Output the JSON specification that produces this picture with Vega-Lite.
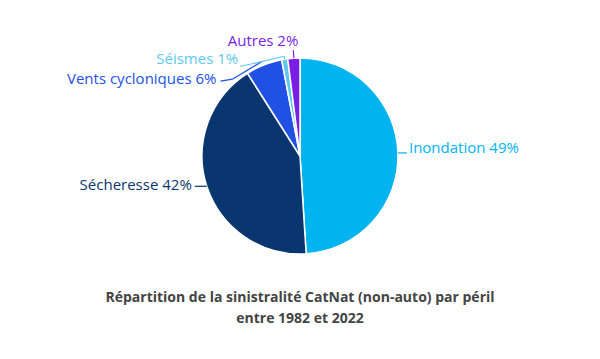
{
  "$schema": "https://vega.github.io/schema/vega-lite/v6.json",
  "width": 600,
  "height": 312,
  "autosize": "none",
  "padding": {"left": 0, "right": 0, "top": 0, "bottom": 47},
  "background": "white",
  "config": {"view": {"stroke": null}},
  "title": {
    "text": ["Répartition de la sinistralité CatNat (non-auto) par péril", "entre 1982 et 2022"],
    "orient": "bottom",
    "anchor": "middle",
    "font": "Open Sans",
    "fontSize": 14,
    "fontWeight": "bold",
    "color": "#444444",
    "lineHeight": 21,
    "offset": -21
  },
  "data": {
    "values": [
      {"peril": "Inondation", "value": 49, "order": 1},
      {"peril": "Sécheresse", "value": 42, "order": 2},
      {"peril": "Vents cycloniques", "value": 6, "order": 3},
      {"peril": "Séismes", "value": 1, "order": 4},
      {"peril": "Autres", "value": 2, "order": 5}
    ]
  },
  "transform": [
    {"joinaggregate": [{"op": "sum", "field": "value", "as": "total"}]},
    {"window": [{"op": "sum", "field": "value", "as": "cum"}], "sort": [{"field": "order"}], "frame": [null, 0]},
    {"calculate": "2*PI*(datum.cum - datum.value/2)/datum.total", "as": "mid"},
    {"calculate": "datum.peril + ' ' + datum.value + '%'", "as": "label"}
  ],
  "encoding": {
    "color": {
      "field": "peril",
      "type": "nominal",
      "scale": {
        "domain": ["Inondation", "Sécheresse", "Vents cycloniques", "Séismes", "Autres"],
        "range": ["#00b4f0", "#0a3670", "#2150e5", "#5ec8ee", "#7a1ee6"]
      },
      "legend": null
    }
  },
  "layer": [
    {
      "mark": {"type": "arc", "outerRadius": 98, "stroke": "white", "strokeWidth": 1.5},
      "encoding": {
        "theta": {"field": "value", "type": "quantitative", "stack": true},
        "order": {"field": "order", "type": "quantitative"}
      }
    },
    {
      "transform": [
        {"filter": "datum.peril === 'Inondation'"},
        {"calculate": "98*sin(datum.mid)", "as": "X"},
        {"calculate": "98*cos(datum.mid)", "as": "Y"},
        {"calculate": "datum.X + 9", "as": "X2"},
        {"calculate": "datum.Y", "as": "Y2"}
      ],
      "mark": {"type": "rule", "strokeWidth": 1.2},
      "encoding": {
        "x": {"field": "X", "type": "quantitative", "scale": {"domain": [-300, 300], "nice": false, "zero": false}, "axis": null},
        "y": {"field": "Y", "type": "quantitative", "scale": {"domain": [-156, 156], "nice": false, "zero": false}, "axis": null},
        "x2": {"field": "X2"},
        "y2": {"field": "Y2"}
      }
    },
    {
      "transform": [
        {"filter": "datum.peril === 'Sécheresse'"},
        {"calculate": "98*sin(datum.mid)", "as": "X"},
        {"calculate": "98*cos(datum.mid)", "as": "Y"},
        {"calculate": "datum.X - 12", "as": "X2"},
        {"calculate": "datum.Y", "as": "Y2"}
      ],
      "mark": {"type": "rule", "strokeWidth": 1.2},
      "encoding": {
        "x": {"field": "X", "type": "quantitative", "scale": {"domain": [-300, 300], "nice": false, "zero": false}, "axis": null},
        "y": {"field": "Y", "type": "quantitative", "scale": {"domain": [-156, 156], "nice": false, "zero": false}, "axis": null},
        "x2": {"field": "X2"},
        "y2": {"field": "Y2"}
      }
    },
    {
      "transform": [
        {"filter": "datum.peril === 'Vents cycloniques'"},
        {"calculate": "102*sin(datum.mid)", "as": "X"},
        {"calculate": "102*cos(datum.mid)", "as": "Y"},
        {"calculate": "datum.X - 30", "as": "X2"},
        {"calculate": "datum.Y - 18", "as": "Y2"}
      ],
      "mark": {"type": "rule", "strokeWidth": 1.2},
      "encoding": {
        "x": {"field": "X", "type": "quantitative", "scale": {"domain": [-300, 300], "nice": false, "zero": false}, "axis": null},
        "y": {"field": "Y", "type": "quantitative", "scale": {"domain": [-156, 156], "nice": false, "zero": false}, "axis": null},
        "x2": {"field": "X2"},
        "y2": {"field": "Y2"}
      }
    },
    {
      "transform": [
        {"filter": "datum.peril === 'Vents cycloniques'"},
        {"calculate": "102*sin(datum.mid) - 30", "as": "X"},
        {"calculate": "102*cos(datum.mid) - 18", "as": "Y"},
        {"calculate": "datum.X - 12", "as": "X2"},
        {"calculate": "datum.Y - 2", "as": "Y2"}
      ],
      "mark": {"type": "rule", "strokeWidth": 1.2},
      "encoding": {
        "x": {"field": "X", "type": "quantitative", "scale": {"domain": [-300, 300], "nice": false, "zero": false}, "axis": null},
        "y": {"field": "Y", "type": "quantitative", "scale": {"domain": [-156, 156], "nice": false, "zero": false}, "axis": null},
        "x2": {"field": "X2"},
        "y2": {"field": "Y2"}
      }
    },
    {
      "transform": [
        {"filter": "datum.peril === 'Séismes'"},
        {"calculate": "98*sin(datum.mid)", "as": "X"},
        {"calculate": "98*cos(datum.mid)", "as": "Y"},
        {"calculate": "101*sin(datum.mid)", "as": "X2"},
        {"calculate": "101*cos(datum.mid)", "as": "Y2"}
      ],
      "mark": {"type": "rule", "strokeWidth": 1.2},
      "encoding": {
        "x": {"field": "X", "type": "quantitative", "scale": {"domain": [-300, 300], "nice": false, "zero": false}, "axis": null},
        "y": {"field": "Y", "type": "quantitative", "scale": {"domain": [-156, 156], "nice": false, "zero": false}, "axis": null},
        "x2": {"field": "X2"},
        "y2": {"field": "Y2"}
      }
    },
    {
      "transform": [
        {"filter": "datum.peril === 'Séismes'"},
        {"calculate": "101*sin(datum.mid)", "as": "X"},
        {"calculate": "101*cos(datum.mid)", "as": "Y"},
        {"calculate": "datum.X - 34", "as": "X2"},
        {"calculate": "datum.Y - 8", "as": "Y2"}
      ],
      "mark": {"type": "rule", "strokeWidth": 1.2},
      "encoding": {
        "x": {"field": "X", "type": "quantitative", "scale": {"domain": [-300, 300], "nice": false, "zero": false}, "axis": null},
        "y": {"field": "Y", "type": "quantitative", "scale": {"domain": [-156, 156], "nice": false, "zero": false}, "axis": null},
        "x2": {"field": "X2"},
        "y2": {"field": "Y2"}
      }
    },
    {
      "transform": [
        {"filter": "datum.peril === 'Séismes'"},
        {"calculate": "101*sin(datum.mid) - 34", "as": "X"},
        {"calculate": "101*cos(datum.mid) - 8", "as": "Y"},
        {"calculate": "datum.X - 10", "as": "X2"},
        {"calculate": "datum.Y - 2", "as": "Y2"}
      ],
      "mark": {"type": "rule", "strokeWidth": 1.2},
      "encoding": {
        "x": {"field": "X", "type": "quantitative", "scale": {"domain": [-300, 300], "nice": false, "zero": false}, "axis": null},
        "y": {"field": "Y", "type": "quantitative", "scale": {"domain": [-156, 156], "nice": false, "zero": false}, "axis": null},
        "x2": {"field": "X2"},
        "y2": {"field": "Y2"}
      }
    },
    {
      "transform": [
        {"filter": "datum.peril === 'Autres'"},
        {"calculate": "98*sin(datum.mid)", "as": "X"},
        {"calculate": "98*cos(datum.mid)", "as": "Y"},
        {"calculate": "106*sin(datum.mid)", "as": "X2"},
        {"calculate": "106*cos(datum.mid)", "as": "Y2"}
      ],
      "mark": {"type": "rule", "strokeWidth": 1.2},
      "encoding": {
        "x": {"field": "X", "type": "quantitative", "scale": {"domain": [-300, 300], "nice": false, "zero": false}, "axis": null},
        "y": {"field": "Y", "type": "quantitative", "scale": {"domain": [-156, 156], "nice": false, "zero": false}, "axis": null},
        "x2": {"field": "X2"},
        "y2": {"field": "Y2"}
      }
    },
    {
      "transform": [
        {"filter": "datum.peril === 'Inondation'"},
        {"calculate": "108*sin(datum.mid)", "as": "X"},
        {"calculate": "108*cos(datum.mid)", "as": "Y"}
      ],
      "mark": {"type": "text", "align": "left", "baseline": "middle", "font": "Open Sans", "fontSize": 15, "dx": 1, "dy": -4.5},
      "encoding": {
        "x": {"field": "X", "type": "quantitative", "scale": {"domain": [-300, 300], "nice": false, "zero": false}, "axis": null},
        "y": {"field": "Y", "type": "quantitative", "scale": {"domain": [-156, 156], "nice": false, "zero": false}, "axis": null},
        "text": {"field": "label", "type": "nominal"}
      }
    },
    {
      "transform": [
        {"filter": "datum.peril === 'Sécheresse'"},
        {"calculate": "98*sin(datum.mid)", "as": "X"},
        {"calculate": "98*cos(datum.mid)", "as": "Y"}
      ],
      "mark": {"type": "text", "align": "right", "baseline": "middle", "font": "Open Sans", "fontSize": 15, "dx": -15, "dy": -1.5},
      "encoding": {
        "x": {"field": "X", "type": "quantitative", "scale": {"domain": [-300, 300], "nice": false, "zero": false}, "axis": null},
        "y": {"field": "Y", "type": "quantitative", "scale": {"domain": [-156, 156], "nice": false, "zero": false}, "axis": null},
        "text": {"field": "label", "type": "nominal"}
      }
    },
    {
      "transform": [
        {"filter": "datum.peril === 'Vents cycloniques'"},
        {"calculate": "102*sin(datum.mid)", "as": "X"},
        {"calculate": "102*cos(datum.mid)", "as": "Y"}
      ],
      "mark": {"type": "text", "align": "right", "baseline": "middle", "font": "Open Sans", "fontSize": 15, "dx": -46, "dy": 18},
      "encoding": {
        "x": {"field": "X", "type": "quantitative", "scale": {"domain": [-300, 300], "nice": false, "zero": false}, "axis": null},
        "y": {"field": "Y", "type": "quantitative", "scale": {"domain": [-156, 156], "nice": false, "zero": false}, "axis": null},
        "text": {"field": "label", "type": "nominal"}
      }
    },
    {
      "transform": [
        {"filter": "datum.peril === 'Séismes'"},
        {"calculate": "101*sin(datum.mid)", "as": "X"},
        {"calculate": "101*cos(datum.mid)", "as": "Y"}
      ],
      "mark": {"type": "text", "align": "right", "baseline": "middle", "font": "Open Sans", "fontSize": 15, "dx": -46, "dy": 3},
      "encoding": {
        "x": {"field": "X", "type": "quantitative", "scale": {"domain": [-300, 300], "nice": false, "zero": false}, "axis": null},
        "y": {"field": "Y", "type": "quantitative", "scale": {"domain": [-156, 156], "nice": false, "zero": false}, "axis": null},
        "text": {"field": "label", "type": "nominal"}
      }
    },
    {
      "transform": [
        {"filter": "datum.peril === 'Autres'"},
        {"calculate": "106*sin(datum.mid)", "as": "X"},
        {"calculate": "106*cos(datum.mid)", "as": "Y"}
      ],
      "mark": {"type": "text", "align": "right", "baseline": "middle", "font": "Open Sans", "fontSize": 15, "dx": 5, "dy": -9},
      "encoding": {
        "x": {"field": "X", "type": "quantitative", "scale": {"domain": [-300, 300], "nice": false, "zero": false}, "axis": null},
        "y": {"field": "Y", "type": "quantitative", "scale": {"domain": [-156, 156], "nice": false, "zero": false}, "axis": null},
        "text": {"field": "label", "type": "nominal"}
      }
    }
  ]
}
